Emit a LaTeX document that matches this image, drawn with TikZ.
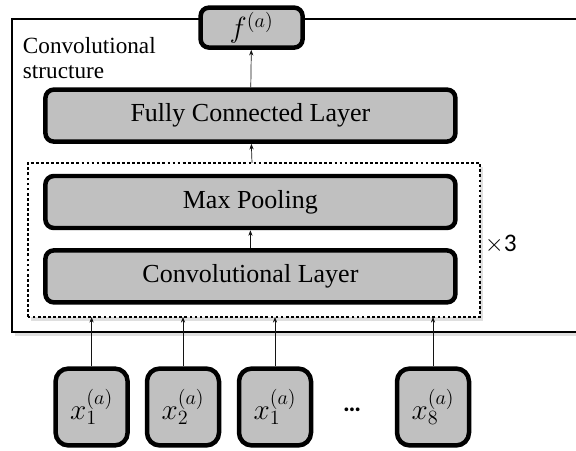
\documentclass[tikz,border=0pt]{standalone}
\usepackage{fontspec}
\setmainfont{Liberation Serif}
\newfontfamily\calfont{Carlito}
\usepackage{tikz}
\usetikzlibrary{arrows.meta, positioning, shadows}
\definecolor{laygrey}{RGB}{192,192,192}
\definecolor{mydark}{RGB}{20,20,20}
\tikzset{
  layer/.style={rectangle, draw=black, fill=laygrey, line width=3.2pt,
    rounded corners=6pt, minimum width=10.25cm, minimum height=1.3cm,
    font=\fontsize{18.5}{22}\selectfont, inner sep=0pt},
  inbox/.style={rectangle, draw=black, fill=laygrey, line width=3.2pt,
    rounded corners=9pt, minimum width=1.8cm, minimum height=1.92cm,
    font=\fontsize{22}{26}\selectfont, inner sep=0pt},
  outbox/.style={rectangle, draw=black, fill=laygrey, line width=3.2pt,
    rounded corners=6pt, minimum width=2.55cm, minimum height=1.0cm,
    font=\fontsize{21}{24}\selectfont, inner sep=0pt},
  arrow/.style={-{Stealth[length=4pt,width=3pt]}, line width=0.5pt, color=mydark},
  softshadow/.style={drop shadow={opacity=0.25, shadow xshift=2pt, shadow yshift=-3pt}}
}

\begin{document}
\begin{tikzpicture}
  \useasboundingbox (0,0) rectangle (14.4,11.25);

  % outer frame, open to the right
  \draw[line width=2.1pt, softshadow, fill=white] (0.3,2.95) rectangle (14.8,10.775);
  \node[anchor=west, font=\fontsize{16.5}{19}\selectfont, align=left] (title) at (0.45,9.8)
    {Convolutional\\[-1pt]structure};

  % repeated block
  \draw[line width=2pt, dash pattern=on 2pt off 1.6pt, softshadow, fill=white]
    (0.7,3.325) rectangle (12.0,7.175);
  \coordinate (rtop) at (6.3,7.175);
  \coordinate (rbot) at (0,3.325);
  \node[font=\calfont\fontsize{18}{20}\selectfont] (times) at (12.52,5.13) {$\times$3};

  \node[layer] (conv) at (6.26,4.34) {Convolutional Layer};
  \node[layer] (pool) at (6.26,6.2) {Max Pooling};
  \node[layer] (fc) at (6.26,8.36) {Fully Connected Layer};
  \node[outbox] (out) at (6.29,10.56) {$f^{(a)}$};

  \draw[arrow] (conv) -- (pool);
  \draw[arrow] (rtop) -- (fc);
  \draw[arrow] (fc) -- (out);

  % inputs
  \node[inbox] (in1) at (2.29,1.075) {$x_1^{(a)}$};
  \node[inbox] (in2) at (4.575,1.075) {$x_2^{(a)}$};
  \node[inbox] (in3) at (6.875,1.075) {$x_1^{(a)}$};
  \node[font=\calfont\bfseries\fontsize{18}{20}\selectfont] (dots) at (8.8,1.0) {\dots};
  \node[inbox] (in8) at (10.825,1.075) {$x_8^{(a)}$};

  \foreach \n in {in1,in2,in3,in8}
    \draw[arrow] (\n.north) -- (\n.north |- rbot);
\end{tikzpicture}
\end{document}
